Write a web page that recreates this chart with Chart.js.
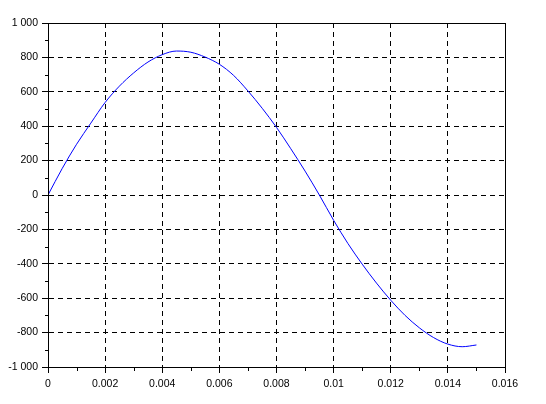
<!DOCTYPE html>
<html>
<head>
<meta charset="utf-8">
<script src="https://cdn.jsdelivr.net/npm/chart.js@4/dist/chart.umd.min.js"></script>
<style>
  html, body { margin: 0; padding: 0; background: #fff; }
  #wrap { width: 546px; height: 404px; }
</style>
</head>
<body>
<div id="wrap"><canvas id="c" width="546" height="404"></canvas></div>
<script>
const xValues = [0, 0.0005, 0.001, 0.0015, 0.002, 0.0025, 0.003, 0.0035, 0.004, 0.0045, 0.005, 0.0055, 0.006, 0.0065, 0.007, 0.0075, 0.008, 0.0085, 0.009, 0.0095, 0.01, 0.0105, 0.011, 0.0115, 0.012, 0.0125, 0.013, 0.0135, 0.014, 0.0145, 0.015];
const yValues = [0, 155, 295, 418, 538, 633, 710, 773, 816, 837, 830, 802, 760, 695, 605, 504, 393, 269, 139, 0, -147, -282, -402, -512, -612, -700, -772, -829, -867, -882, -872];
const xTickValues = [0, 0.002, 0.004, 0.006, 0.008, 0.01, 0.012, 0.014, 0.016];
const xTickLabels = ["0", "0.002", "0.004", "0.006", "0.008", "0.01", "0.012", "0.014", "0.016"];
const yTickValues = [-1000, -800, -600, -400, -200, 0, 200, 400, 600, 800, 1000];
const yTickLabels = ["-1 000", "-800", "-600", "-400", "-200", "0", "200", "400", "600", "800", "1 000"];
const xMinorValues = [0.001, 0.003, 0.005, 0.007, 0.009, 0.011, 0.013, 0.015];
const yMinorValues = [-900, -700, -500, -300, -100, 100, 300, 500, 700, 900];

const points = xValues.map((x, i) => ({ x: x, y: yValues[i] }));

const framePlugin = {
  id: 'frame',
  afterDraw(chart) {
    const ctx = chart.ctx;
    const a = chart.chartArea;
    const xs = chart.scales.x, ys = chart.scales.y;
    ctx.save();
    ctx.strokeStyle = '#000';
    ctx.lineWidth = 1;
    ctx.setLineDash([]);
    ctx.strokeRect(Math.round(a.left) + 0.5, Math.round(a.top) + 0.5,
                   Math.round(a.right - a.left), Math.round(a.bottom - a.top));
    ctx.beginPath();
    xMinorValues.forEach(v => {
      const px = Math.round(xs.getPixelForValue(v)) + 0.5;
      ctx.moveTo(px, Math.round(a.bottom));
      ctx.lineTo(px, Math.round(a.bottom) + 4);
    });
    yMinorValues.forEach(v => {
      const py = Math.round(ys.getPixelForValue(v)) + 0.5;
      ctx.moveTo(Math.round(a.left) - 3, py);
      ctx.lineTo(Math.round(a.left), py);
    });
    ctx.stroke();
    ctx.restore();
  }
};

const font = { family: 'Liberation Sans, Arial, sans-serif', size: 10.5 };

new Chart(document.getElementById('c'), {
  type: 'line',
  data: {
    datasets: [{
      data: points,
      borderColor: '#0000ff',
      borderWidth: 1,
      pointRadius: 0,
      fill: false,
      cubicInterpolationMode: 'monotone'
    }]
  },
  options: {
    responsive: false,
    animation: false,
    devicePixelRatio: 1,
    layout: { padding: { left: 0, top: 23, right: 41, bottom: 0 } },
    plugins: { legend: { display: false }, tooltip: { enabled: false } },
    scales: {
      x: {
        type: 'linear',
        min: 0, max: 0.016,
        afterBuildTicks(scale) { scale.ticks = xTickValues.map(v => ({ value: v })); },
        afterFit(scale) { scale.height = 37; },
        ticks: {
          callback: (v, i) => xTickLabels[i],
          color: '#000', font: font, padding: 5, maxRotation: 0, autoSkip: false
        },
        grid: {
          color: '#000', lineWidth: 1, tickLength: 6, tickColor: '#000', tickBorderDash: []
        },
        border: { display: true, color: '#000', dash: [5, 4] }
      },
      y: {
        type: 'linear',
        min: -1000, max: 1000,
        afterBuildTicks(scale) { scale.ticks = yTickValues.map(v => ({ value: v })); },
        afterFit(scale) { scale.width = 48; },
        ticks: {
          callback: (v, i) => yTickLabels[i],
          color: '#000', font: font, padding: 4, autoSkip: false
        },
        grid: {
          color: '#000', lineWidth: 1, tickLength: 6, tickColor: '#000', tickBorderDash: []
        },
        border: { display: true, color: '#000', dash: [5, 4] }
      }
    }
  },
  plugins: [framePlugin]
});
</script>
</body>
</html>
